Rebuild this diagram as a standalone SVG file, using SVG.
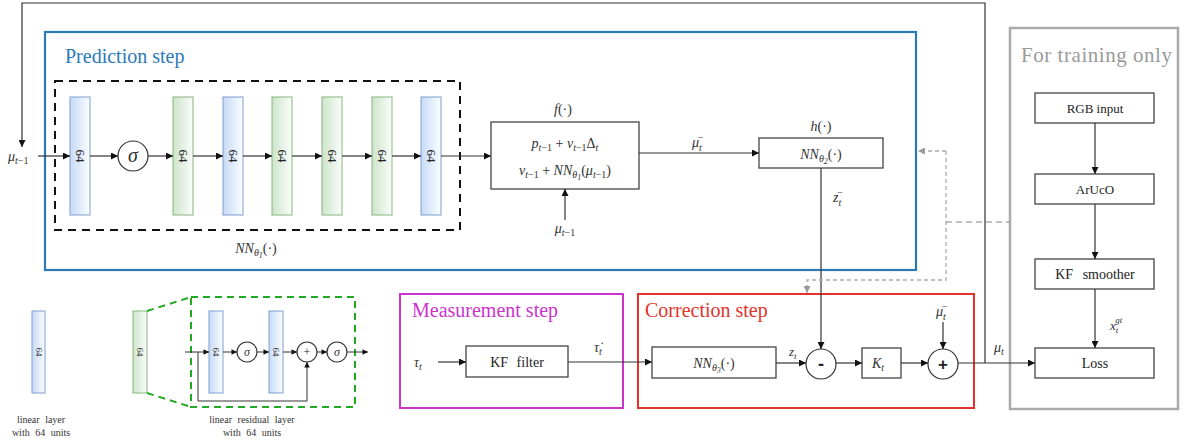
<svg xmlns="http://www.w3.org/2000/svg" width="1186" height="443" viewBox="0 0 1186 443">
<defs>
<linearGradient id="gb" x1="0" x2="1" y1="0" y2="0"><stop offset="0" stop-color="#c6daf6"/><stop offset="1" stop-color="#fbfdff"/></linearGradient>
<linearGradient id="gg" x1="0" x2="1" y1="0" y2="0"><stop offset="0" stop-color="#cde4cb"/><stop offset="1" stop-color="#fbfdfb"/></linearGradient>
<marker id="ah" viewBox="0 0 10 10" refX="10" refY="5" markerWidth="9" markerHeight="7" markerUnits="userSpaceOnUse" orient="auto"><path d="M0,0 L10,5 L0,10 z" fill="#111"/></marker>
<marker id="ahs" viewBox="0 0 10 10" refX="10" refY="5" markerWidth="7" markerHeight="5.5" markerUnits="userSpaceOnUse" orient="auto"><path d="M0,0 L10,5 L0,10 z" fill="#111"/></marker>
<marker id="ahg" viewBox="0 0 10 10" refX="10" refY="5" markerWidth="9" markerHeight="7" markerUnits="userSpaceOnUse" orient="auto"><path d="M0,0 L10,5 L0,10 z" fill="#999"/></marker>
<style>
.box{fill:#fff;stroke:#444;stroke-width:1.3}
.ln{fill:none;stroke:#333;stroke-width:1.2}
.arr{fill:none;stroke:#333;stroke-width:1.2;marker-end:url(#ah)}
.arrs{fill:none;stroke:#333;stroke-width:1;marker-end:url(#ahs)}
text{font-family:'Liberation Serif','DejaVu Serif','Times New Roman',serif}
.t{fill:#222}
.m{font-style:italic;fill:#333}
.n{font-style:normal}
.lb{fill:url(#gb);stroke:#7f9fcf;stroke-width:1}
.lg{fill:url(#gg);stroke:#86b67d;stroke-width:1}
.cir{fill:#fff;stroke:#333;stroke-width:1.2}
.l64{font-size:13px;fill:#222}
.s64{font-size:9px;fill:#222}
.sm{font-size:10px;fill:#333;word-spacing:3px}
</style>
</defs>

<g id="prediction-step">
<rect x="45" y="32" width="871" height="238" fill="none" stroke="#2a7ab8" stroke-width="2.2"/>
<text class="t" x="65" y="63" font-size="20" style="fill:#2a7ab8">Prediction step</text>
</g>
<g id="nn1-block">
<rect x="55" y="81" width="405" height="149" fill="none" stroke="#111" stroke-width="2" stroke-dasharray="8,6"/>
<text class="m" x="256" y="253" font-size="14" text-anchor="middle">NN<tspan font-size="10" dy="3">θ</tspan><tspan font-size="8" dy="2">1</tspan><tspan class="n" dy="-5">(·)</tspan></text>
</g>
<g id="layer1"><rect class="lb" x="70" y="97" width="20" height="118"/><text class="l64" transform="translate(80,156) rotate(90)" text-anchor="middle" dominant-baseline="central">64</text></g>
<g id="sigma1"><circle class="cir" cx="133" cy="156" r="15"/><text class="m" x="133" y="162" font-size="20" text-anchor="middle">σ</text></g>
<g id="layer2"><rect class="lg" x="173" y="97" width="20" height="118"/><text class="l64" transform="translate(183,156) rotate(90)" text-anchor="middle" dominant-baseline="central">64</text></g>
<g id="layer3"><rect class="lb" x="223" y="97" width="20" height="118"/><text class="l64" transform="translate(233,156) rotate(90)" text-anchor="middle" dominant-baseline="central">64</text></g>
<g id="layer4"><rect class="lg" x="272" y="97" width="20" height="118"/><text class="l64" transform="translate(282,156) rotate(90)" text-anchor="middle" dominant-baseline="central">64</text></g>
<g id="layer5"><rect class="lg" x="322" y="97" width="20" height="118"/><text class="l64" transform="translate(332,156) rotate(90)" text-anchor="middle" dominant-baseline="central">64</text></g>
<g id="layer6"><rect class="lg" x="372" y="97" width="20" height="118"/><text class="l64" transform="translate(382,156) rotate(90)" text-anchor="middle" dominant-baseline="central">64</text></g>
<g id="layer7"><rect class="lb" x="421" y="97" width="20" height="118"/><text class="l64" transform="translate(431,156) rotate(90)" text-anchor="middle" dominant-baseline="central">64</text></g>

<g id="input-label"><text class="m" x="8" y="161" font-size="14">μ<tspan font-size="10" dy="3">t</tspan><tspan class="n" font-size="10">−1</tspan></text></g>

<g id="f-box">
<text class="m" x="563" y="114" font-size="14" text-anchor="middle">f<tspan class="n">(·)</tspan></text>
<rect class="box" x="491" y="122" width="148" height="67"/>
<text class="m" x="565" y="148" font-size="14" text-anchor="middle">p<tspan font-size="10" dy="3">t</tspan><tspan class="n" font-size="10">−1</tspan><tspan class="n" dy="-3"> + </tspan>v<tspan font-size="10" dy="3">t</tspan><tspan class="n" font-size="10">−1</tspan><tspan class="n" dy="-3">Δ</tspan><tspan font-size="10" dy="3">t</tspan></text>
<text class="m" x="565" y="175" font-size="14" text-anchor="middle">v<tspan font-size="10" dy="3">t</tspan><tspan class="n" font-size="10">−1</tspan><tspan class="n" dy="-3"> + </tspan>NN<tspan font-size="10" dy="3">θ</tspan><tspan font-size="8" dy="2">1</tspan><tspan class="n" dy="-5">(</tspan>μ<tspan font-size="10" dy="3">t</tspan><tspan class="n" font-size="10">−1</tspan><tspan class="n" dy="-3">)</tspan></text>
<text class="m" x="565" y="233" font-size="14" text-anchor="middle">μ<tspan font-size="10" dy="3">t</tspan><tspan class="n" font-size="10">−1</tspan></text>
</g>

<g id="h-box">
<text class="m" x="821" y="131" font-size="14" text-anchor="middle">h<tspan class="n">(·)</tspan></text>
<rect class="box" x="759" y="138" width="124" height="30"/>
<text class="m" x="821" y="159" font-size="14" text-anchor="middle">NN<tspan font-size="10" dy="3">θ</tspan><tspan font-size="8" dy="2">2</tspan><tspan class="n" dy="-5">(·)</tspan></text>
<text class="m" x="692" y="147" font-size="14">μ<tspan font-size="10" dy="4">t</tspan><tspan class="n" font-size="10" dx="-4" dy="-10">−</tspan></text>
<text class="m" x="833" y="202" font-size="14">z<tspan font-size="10" dy="4">t</tspan><tspan class="n" font-size="10" dx="-4" dy="-10">−</tspan></text>
</g>

<g id="measurement-step">
<rect x="400" y="294" width="223" height="114" fill="none" stroke="#cc33cc" stroke-width="2"/>
<text class="t" x="412" y="317" font-size="20" style="fill:#cc33cc">Measurement step</text>
<rect class="box" x="466" y="346" width="102" height="31"/>
<text class="t" x="517" y="367" font-size="14" text-anchor="middle" word-spacing="5">KF filter</text>
<text class="m" x="414" y="367" font-size="14">τ<tspan font-size="10" dy="3">t</tspan></text>
<text class="m" x="594" y="352" font-size="14">τ̇<tspan font-size="10" dy="3">t</tspan></text>
</g>

<g id="correction-step">
<rect x="638" y="294" width="336" height="114" fill="none" stroke="#e5322a" stroke-width="2"/>
<text class="t" x="645" y="317" font-size="20" style="fill:#e5322a">Correction step</text>
</g>
<g id="nn3-box">
<rect class="box" x="652" y="347" width="124" height="31"/>
<text class="m" x="714" y="368" font-size="14" text-anchor="middle">NN<tspan font-size="10" dy="3">θ</tspan><tspan font-size="8" dy="2">3</tspan><tspan class="n" dy="-5">(·)</tspan></text>
<text class="m" x="789" y="356" font-size="13">z<tspan font-size="9" dy="3">t</tspan></text>
</g>
<g id="minus"><circle class="cir" cx="821" cy="364" r="15"/><text x="821" y="370" style="font-family:'Liberation Sans',sans-serif" font-weight="bold" font-size="18" text-anchor="middle" fill="#222">-</text></g>
<g id="gain-box"><rect class="box" x="862" y="348" width="39" height="30"/><text class="m" x="878" y="368" font-size="14" text-anchor="middle">K<tspan font-size="10" dy="3">t</tspan></text></g>
<g id="plus"><circle class="cir" cx="943" cy="364" r="15"/><text x="943" y="370" style="font-family:'Liberation Sans',sans-serif" font-weight="bold" font-size="17" text-anchor="middle" fill="#222">+</text>
<text class="m" x="936" y="316" font-size="14">μ<tspan font-size="10" dy="4">t</tspan><tspan class="n" font-size="10" dx="-4" dy="-10">−</tspan></text></g>
<g id="mu-t-label"><text class="m" x="994" y="352" font-size="14">μ<tspan font-size="10" dy="3">t</tspan></text></g>

<g id="training-only">
<rect x="1010" y="28" width="168" height="381" fill="none" stroke="#aaa" stroke-width="2.5"/>
<text class="t" x="1021" y="62" font-size="21" style="fill:#9a9a9a" textLength="151">For training only</text>
</g>
<g id="rgb-box"><rect class="box" x="1035" y="93" width="119" height="30"/><text class="t" x="1095" y="113" font-size="13" text-anchor="middle">RGB input</text></g>
<g id="aruco-box"><rect class="box" x="1035" y="174" width="119" height="30"/><text class="t" x="1095" y="194" font-size="13" text-anchor="middle">ArUcO</text></g>
<g id="smoother-box"><rect class="box" x="1035" y="259" width="119" height="30"/><text class="t" x="1095" y="279" font-size="14" text-anchor="middle" word-spacing="6">KF smoother</text></g>
<g id="loss-box"><rect class="box" x="1035" y="348" width="119" height="30"/><text class="t" x="1095" y="368" font-size="14" text-anchor="middle">Loss</text>
<text class="m" x="1110" y="330" font-size="13">x<tspan font-size="9" dy="3">t</tspan><tspan font-size="9" dx="-3" dy="-10">gt</tspan></text></g>

<g id="legend-linear">
<rect class="lb" x="32" y="311" width="13" height="82"/>
<text class="s64" transform="translate(38.5,352) rotate(90)" text-anchor="middle" dominant-baseline="central">64</text>
<text class="sm" x="41" y="423" text-anchor="middle">linear layer</text>
<text class="sm" x="41" y="436" text-anchor="middle">with 64 units</text>
</g>
<g id="legend-residual">
<rect class="lg" x="133" y="311" width="14" height="82"/>
<text class="s64" transform="translate(140,352) rotate(90)" text-anchor="middle" dominant-baseline="central">64</text>
<path d="M147,311 L191,297 M147,393 L191,407" fill="none" stroke="#22aa22" stroke-width="2" stroke-dasharray="7,5"/>
<rect x="191" y="297" width="164" height="110" fill="none" stroke="#22aa22" stroke-width="2" stroke-dasharray="7,5"/>
<rect class="lb" x="209" y="311" width="14" height="82"/>
<text class="s64" transform="translate(216,352) rotate(90)" text-anchor="middle" dominant-baseline="central">64</text>
<circle class="cir" cx="247" cy="352" r="10" stroke-width="1"/>
<text class="m" x="247" y="356" font-size="12" text-anchor="middle">σ</text>
<rect class="lb" x="269" y="311" width="14" height="82"/>
<text class="s64" transform="translate(276,352) rotate(90)" text-anchor="middle" dominant-baseline="central">64</text>
<circle class="cir" cx="307" cy="352" r="10" stroke-width="1"/>
<text class="t" x="307" y="356" font-size="12" text-anchor="middle">+</text>
<circle class="cir" cx="337" cy="352" r="10" stroke-width="1"/>
<text class="m" x="337" y="356" font-size="12" text-anchor="middle">σ</text>
<text class="sm" x="252" y="423" text-anchor="middle">linear residual layer</text>
<text class="sm" x="252" y="436" text-anchor="middle">with 64 units</text>
</g>

<g id="connectors">
<path class="arr" d="M985,363 V3 H22 V147"/>
<path class="arr" d="M38,156 H70"/>
<path class="arr" d="M90,156 H118"/>
<path class="arr" d="M148,156 H173"/>
<path class="arr" d="M193,156 H223"/>
<path class="arr" d="M243,156 H272"/>
<path class="arr" d="M292,156 H322"/>
<path class="arr" d="M342,156 H372"/>
<path class="arr" d="M392,156 H421"/>
<path class="arr" d="M441,156 H491"/>
<path class="arr" d="M565,220 V189"/>
<path class="arr" d="M639,153 H759"/>
<path class="arr" d="M821,168 V349"/>
<path class="arr" d="M438,362 H466"/>
<path class="arr" d="M568,362 H652"/>
<path class="arr" d="M776,363 H806"/>
<path class="arr" d="M836,363 H862"/>
<path class="arr" d="M901,363 H928"/>
<path class="arr" d="M943,322 V349"/>
<path class="arr" d="M958,363 H1035"/>
<path class="arr" d="M1095,123 V174"/>
<path class="arr" d="M1095,204 V259"/>
<path class="arr" d="M1095,289 V348"/>
<path d="M946,151 H918" fill="none" stroke="#aaa" stroke-width="1.3" stroke-dasharray="4,3" marker-end="url(#ahg)"/>
<path d="M946,151 V280 H807 V293" fill="none" stroke="#aaa" stroke-width="1.3" stroke-dasharray="4,3" marker-end="url(#ahg)"/>
<path d="M946,222 H1010" fill="none" stroke="#888" stroke-width="1.2" stroke-dasharray="6,4"/>
<path class="arrs" d="M185,352 H209"/>
<path class="arrs" d="M223,352 H237"/>
<path class="arrs" d="M257,352 H269"/>
<path class="arrs" d="M283,352 H297"/>
<path class="arrs" d="M317,352 H327"/>
<path class="arrs" d="M347,352 H368"/>
<path class="arrs" d="M198,352 V401 H307 V362"/>
</g>
</svg>
